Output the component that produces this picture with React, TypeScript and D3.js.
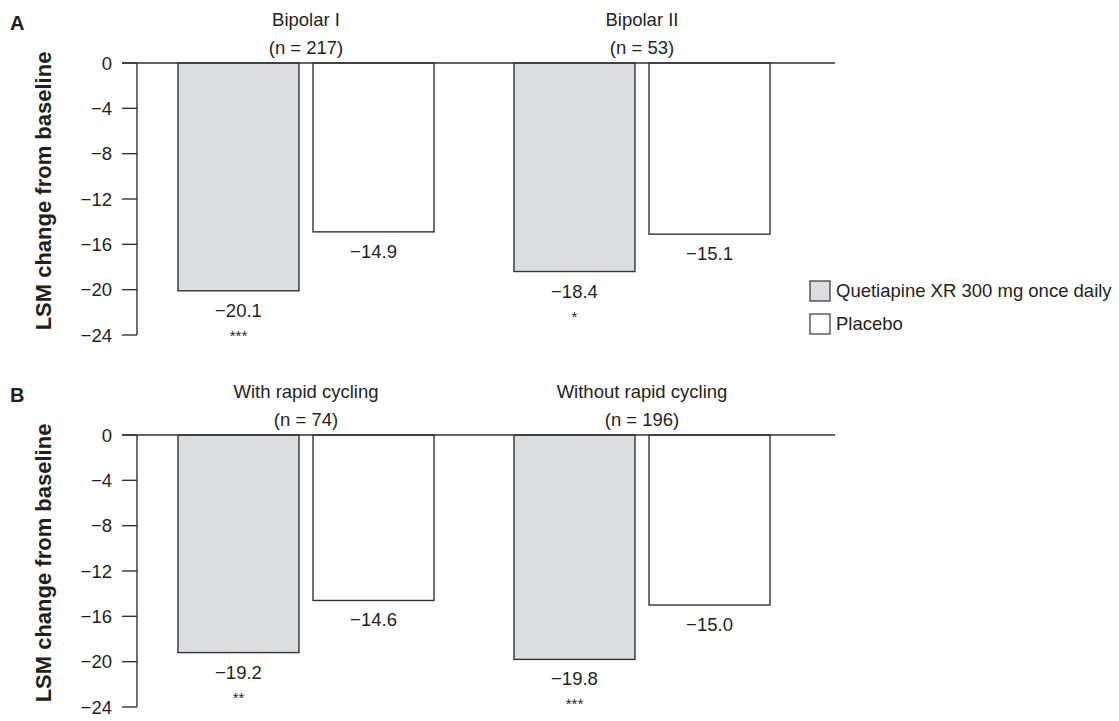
import React from "react";
import * as d3 from "d3";

const seriesNames = ["Quetiapine XR 300 mg once daily", "Placebo"];
const seriesFills = ["#dcdde0", "#ffffff"];

const panelALetters = "A";
const panelAGroups = ["Bipolar I", "Bipolar II"];
const panelANs = ["(n = 217)", "(n = 53)"];
const panelAQuetiapine = [-20.1, -18.4];
const panelAPlacebo = [-14.9, -15.1];
const panelAStars = [["***", ""], ["*", ""]];

const panelBLetters = "B";
const panelBGroups = ["With rapid cycling", "Without rapid cycling"];
const panelBNs = ["(n = 74)", "(n = 196)"];
const panelBQuetiapine = [-19.2, -19.8];
const panelBPlacebo = [-14.6, -15.0];
const panelBStars = [["**", ""], ["***", ""]];

const yTicks = [0, -4, -8, -12, -16, -20, -24];
const yLabel = "LSM change from baseline";

const FONT = "'Liberation Sans', Arial, Helvetica, sans-serif";
const INK = "#231f20";
const FS = 18.5;

type PanelProps = {
  letter: string;
  groups: string[];
  ns: string[];
  q: number[];
  p: number[];
  stars: string[][];
  top: number;
};

function Panel({ letter, groups, ns, q, p, stars, top }: PanelProps) {
  const y0 = top;
  const yScale = d3.scaleLinear().domain([-24, 0]).range([y0 + 272, y0]);
  const x0 = d3
    .scaleBand<string>()
    .domain(groups)
    .range([138, 810])
    .paddingInner(0.238)
    .paddingOuter(0.119);
  const x1 = d3
    .scaleBand<string>()
    .domain(seriesNames)
    .range([0, x0.bandwidth()])
    .paddingInner(0.104)
    .paddingOuter(0);
  const axisX = 137;
  const data = groups.map((g, i) => ({
    group: g,
    n: ns[i],
    vals: [q[i], p[i]],
    stars: stars[i],
  }));
  const labelCenter = (yScale(0) + yScale(-24)) / 2 - 8;
  return (
    <g>
      <text x={10} y={y0 - 33} fontFamily={FONT} fontWeight="bold" fontSize={20} fill={INK}>
        {letter}
      </text>
      <text
        transform={`translate(51,${labelCenter}) rotate(-90)`}
        textAnchor="middle"
        fontFamily={FONT}
        fontWeight="bold"
        fontSize={22}
        fill={INK}
      >
        {yLabel}
      </text>
      {data.map((d) => {
        const gx = x0(d.group)!;
        const cx = gx + x0.bandwidth() / 2;
        return (
          <g key={d.group}>
            <text x={cx} y={y0 - 37} textAnchor="middle" fontFamily={FONT} fontSize={FS} fill={INK}>
              {d.group}
            </text>
            <text x={cx} y={y0 - 9} textAnchor="middle" fontFamily={FONT} fontSize={FS} fill={INK}>
              {d.n}
            </text>
            {d.vals.map((v, j) => {
              const bx = gx + x1(seriesNames[j])!;
              const bw = x1.bandwidth();
              const by = yScale(v);
              return (
                <g key={j}>
                  <rect
                    x={bx}
                    y={yScale(0)}
                    width={bw}
                    height={by - yScale(0)}
                    fill={seriesFills[j]}
                    stroke="#333"
                    strokeWidth={1.4}
                  />
                  <text
                    x={bx + bw / 2}
                    y={by + 26}
                    textAnchor="middle"
                    fontFamily={FONT}
                    fontSize={FS}
                    fill={INK}
                  >
                    {"\u2212" + Math.abs(v).toFixed(1)}
                  </text>
                  {d.stars[j] && (
                    <text
                      x={bx + bw / 2}
                      y={by + 50}
                      textAnchor="middle"
                      fontFamily={FONT}
                      fontSize={15}
                      fill={INK}
                    >
                      {d.stars[j]}
                    </text>
                  )}
                </g>
              );
            })}
          </g>
        );
      })}
      <line x1={axisX} x2={axisX} y1={yScale(0)} y2={yScale(-24)} stroke="#333" strokeWidth={1.4} />
      <line x1={122} x2={835} y1={yScale(0)} y2={yScale(0)} stroke="#333" strokeWidth={1.6} />
      {yTicks.map((t) => (
        <g key={t}>
          <line x1={122} x2={axisX} y1={yScale(t)} y2={yScale(t)} stroke="#333" strokeWidth={1.4} />
          <text
            x={112}
            y={yScale(t) + 6.5}
            textAnchor="end"
            fontFamily={FONT}
            fontSize={FS}
            fill={INK}
          >
            {t === 0 ? "0" : "\u2212" + Math.abs(t)}
          </text>
        </g>
      ))}
    </g>
  );
}

export default function App() {
  return (
    <svg width={1119} height={721} style={{ position: "absolute", left: 0, top: 0, background: "#fff" }}>
      <rect x={0} y={0} width={1119} height={721} fill="#fff" />
      <Panel
        letter={panelALetters}
        groups={panelAGroups}
        ns={panelANs}
        q={panelAQuetiapine}
        p={panelAPlacebo}
        stars={panelAStars}
        top={63}
      />
      <Panel
        letter={panelBLetters}
        groups={panelBGroups}
        ns={panelBNs}
        q={panelBQuetiapine}
        p={panelBPlacebo}
        stars={panelBStars}
        top={435}
      />
      {seriesNames.map((s, i) => (
        <g key={s}>
          <rect
            x={810}
            y={281 + i * 33}
            width={20}
            height={20}
            fill={seriesFills[i]}
            stroke="#333"
            strokeWidth={1.2}
          />
          <text x={836} y={297 + i * 33} fontFamily={FONT} fontSize={FS} fill={INK}>
            {s}
          </text>
        </g>
      ))}
    </svg>
  );
}
